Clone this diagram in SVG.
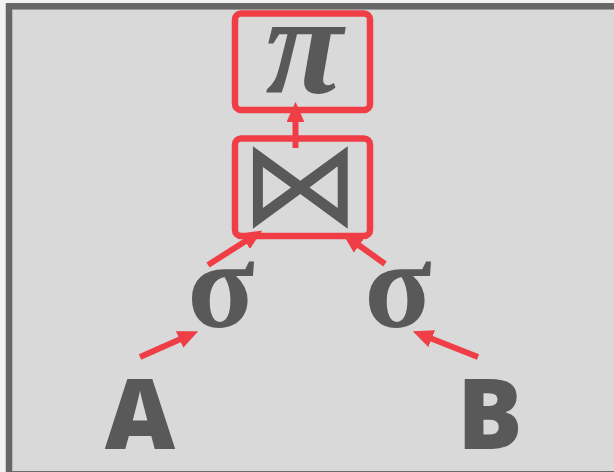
<svg xmlns="http://www.w3.org/2000/svg" width="614" height="472" viewBox="0 0 614 472">
<style>
.bg{fill:#d9d9d9;stroke:#666666;stroke-width:6.5}
.box{fill:none;stroke:#ef3e46;stroke-width:6.5}
.pi{fill:#595959;font-family:"Liberation Serif","DejaVu Serif",serif;font-style:italic;font-weight:700;text-anchor:middle}
.sig{fill:#595959;font-family:"Liberation Serif","DejaVu Serif",serif;font-weight:700;text-anchor:middle}
.op{fill:#595959;font-family:"DejaVu Sans",sans-serif;text-anchor:middle}
.rel{fill:#595959;font-family:"Open Sans","DejaVu Sans",sans-serif;font-weight:800;font-size:97px;text-anchor:middle}
.arr{stroke:#ef3e46;stroke-width:6;fill:none;marker-end:url(#ah)}
</style>
<defs>
<marker id="ah" viewBox="0 0 3.4 3" refX="0.2" refY="1.5" markerWidth="3.4" markerHeight="3" orient="auto" markerUnits="strokeWidth">
<path d="M0,0 L3.4,1.5 L0,3 z" fill="#ef3e46"/>
</marker>
</defs>
<rect x="0" y="0" width="614" height="472" fill="#f2f2f2"/>
<rect class="bg" x="9" y="6.3" width="620" height="468"/>
<g id="project">
<rect class="box" x="235" y="13.5" width="135" height="96.5" rx="6"/>
<text class="pi" x="304" y="93" font-size="142">π</text>
</g>
<g id="join">
<rect class="box" x="235" y="138.5" width="135" height="97.5" rx="6"/>
<text class="op" x="300" y="225" font-size="120">⋈</text>
</g>
<g id="selectA">
<text class="sig" x="221" y="327" font-size="124">σ</text>
</g>
<g id="selectB">
<text class="sig" x="398" y="327" font-size="124">σ</text>
</g>
<g id="relA">
<text class="rel" x="140" y="449">A</text>
</g>
<g id="relB">
<text class="rel" x="490" y="449">B</text>
</g>
<g id="connectors">
<line class="arr" x1="295.5" y1="148" x2="295.5" y2="121"/>
<line class="arr" x1="208" y1="265" x2="246.1" y2="240.7"/>
<line class="arr" x1="140" y1="357" x2="180.7" y2="339.1"/>
<line class="arr" x1="385" y1="264" x2="358.2" y2="244.7"/>
<line class="arr" x1="478" y1="357" x2="430.6" y2="338.3"/>
</g>
</svg>
